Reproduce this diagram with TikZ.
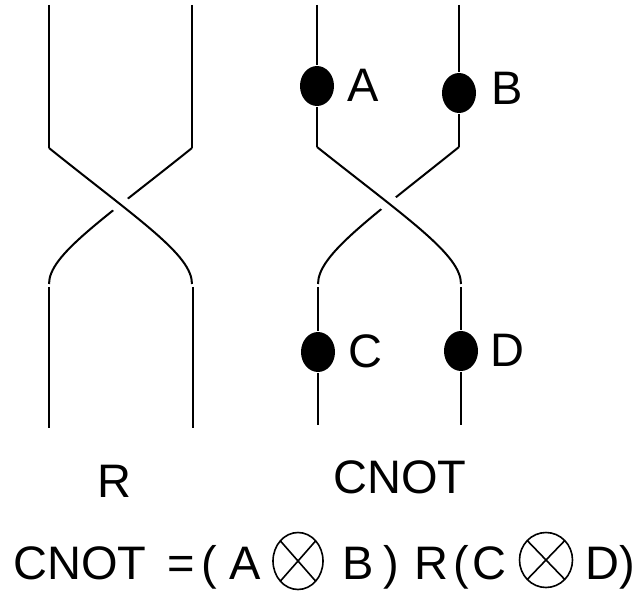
\documentclass[tikz,border=0pt]{standalone}
\usepackage{fontspec}
\setmainfont{Liberation Sans}
\usetikzlibrary{shapes.geometric}

\begin{document}
\begin{tikzpicture}[x=1pt,y=-1pt,line width=2pt]
\tikzstyle{every node}+=[inner sep=0pt,font=\fontsize{47}{56}\selectfont]
\tikzstyle{dot}=[ellipse,fill=black,minimum width=34pt,minimum height=40pt]
\tikzstyle{otimes}=[line width=1.6pt]
\tikzstyle{over}=[preaction={draw,white,line width=18pt}]
\useasboundingbox (0,0) rectangle (642,593);

% R braid
\coordinate (ra) at (49,5);
\coordinate (rb) at (192,5);
\coordinate (rc) at (49,148);
\coordinate (rd) at (192,148);
\coordinate (re) at (49,284);
\coordinate (rf) at (192,284);
\coordinate (rg) at (49,287);
\coordinate (rh) at (193,287);
\coordinate (ri) at (49,428);
\coordinate (rj) at (193,428);
\draw (rd) .. controls +(-91,73) and +(0,-29) .. (re);
\draw [over] (rc) .. controls +(91,73) and +(0,-29) .. (rf);
\draw (ra) -- (rc);
\draw (rb) -- (rd);
\draw (rg) -- (ri);
\draw (rh) -- (rj);
\node (rlabel) at (114,481) {R};

% CNOT braid
\coordinate (ca) at (317,5);
\coordinate (cb) at (459,5);
\coordinate (cc) at (317,147);
\coordinate (cd) at (459,147);
\coordinate (ce) at (318,284);
\coordinate (cf) at (461,284);
\coordinate (cg) at (318,287);
\coordinate (ch) at (461,287);
\coordinate (ci) at (318,425);
\coordinate (cj) at (461,425);
\draw (cd) .. controls +(-91,73) and +(0,-29) .. (ce);
\draw [over] (cc) .. controls +(92,73) and +(0,-29) .. (cf);
\node [dot] (dota) at (317,86) {};
\node [dot] (dotb) at (459,93) {};
\node [dot] (dotc) at (318,352) {};
\node [dot] (dotd) at (461,351) {};
\draw (ca) -- (dota) -- (cc);
\draw (cb) -- (dotb) -- (cd);
\draw (cg) -- (dotc) -- (ci);
\draw (ch) -- (dotd) -- (cj);
\node [anchor=base] (la) at (363,102) {A};
\node [anchor=base] (lb) at (507,105) {B};
\node [anchor=base] (lc) at (365,367) {C};
\node [anchor=base] (ld) at (507,366) {D};
\node [anchor=base] (cnotlabel) at (400,493) {CNOT};

% equation
\node [anchor=base] (eqcnot) at (80,579) {CNOT};
\node [anchor=base] (eqeq) at (181,579) {=};
\node [anchor=base] (eqpa) at (209,579) {(};
\node [anchor=base] (eqa) at (245,579) {A};
\coordinate (ota) at (298,561);
\draw [otimes] (ota) ellipse [x radius=25, y radius=28.5]
  (ota) ++(-17.7,-20.2) -- ++(35.4,40.4)
  (ota) ++(17.7,-20.2) -- ++(-35.4,40.4);
\node [anchor=base] (eqb) at (358,579) {B};
\node [anchor=base] (eqpb) at (391,579) {)};
\node [anchor=base] (eqr) at (431,579) {R};
\node [anchor=base] (eqpc) at (461,579) {(};
\node [anchor=base] (eqc) at (489,579) {C};
\coordinate (otb) at (546,560);
\draw [otimes] (otb) ellipse [x radius=26.5, y radius=27.5]
  (otb) ++(-18.7,-19.4) -- ++(37.4,38.8)
  (otb) ++(18.7,-19.4) -- ++(-37.4,38.8);
\node [anchor=base] (eqd) at (602,579) {D};
\node [anchor=base] (eqpd) at (627,579) {)};
\end{tikzpicture}
\end{document}
